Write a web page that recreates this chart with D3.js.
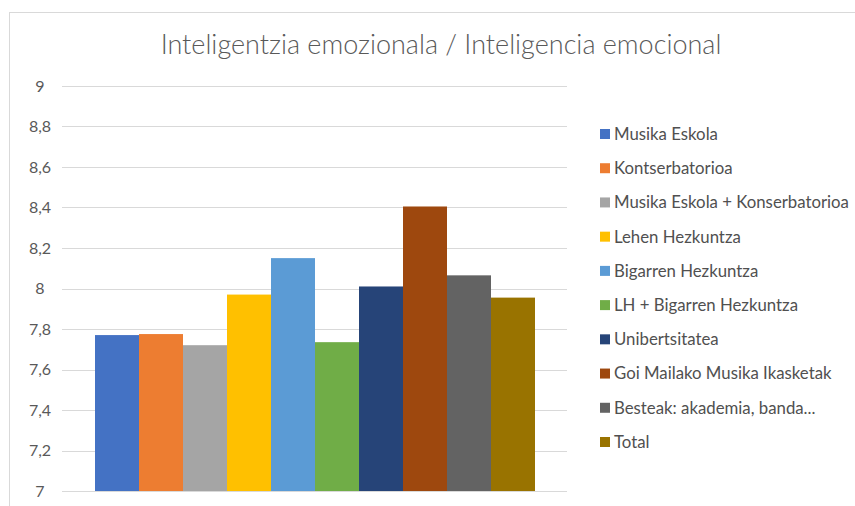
<!DOCTYPE html>
<html><head><meta charset="utf-8">
<script src="https://cdn.jsdelivr.net/npm/d3@7"></script>
<style>body{margin:0;background:#fff;}svg{display:block;}</style>
</head><body>
<script>
const title = "Inteligentzia emozionala / Inteligencia emocional";
const categories = ["Musika Eskola","Kontserbatorioa","Musika Eskola + Konserbatorioa","Lehen Hezkuntza","Bigarren Hezkuntza","LH + Bigarren Hezkuntza","Unibertsitatea","Goi Mailako Musika Ikasketak","Besteak: akademia, banda...","Total"];
const values = [7.77, 7.775, 7.72, 7.97, 8.15, 7.735, 8.01, 8.405, 8.065, 7.955];
const colors = ["#4472c4","#ed7d31","#a5a5a5","#ffc000","#5b9bd5","#70ad47","#264478","#9e480e","#636363","#997300"];
const yTicks = [7,7.2,7.4,7.6,7.8,8,8.2,8.4,8.6,8.8,9];

const W = 855, H = 506;
const svg = d3.select("body").append("svg").attr("width", W).attr("height", H);
svg.append("rect").attr("x", 9.5).attr("y", 12.5).attr("width", 900).attr("height", 600)
  .attr("fill", "#fff").attr("stroke", "#d9d9d9").attr("stroke-width", 1);

const y = d3.scaleLinear().domain([7, 9]).range([491, 86]);
const x = d3.scaleBand().domain(categories).range([95, 535]).padding(0);

const fontF = "Lato, 'Open Sans', sans-serif";
svg.append("text").attr("x", 441).attr("y", 54).attr("text-anchor", "middle")
  .attr("font-family", fontF).attr("font-weight", 300).attr("font-size", 27).attr("fill", "#595959").text(title);

const grid = svg.append("g");
grid.selectAll("line").data(yTicks).join("line")
  .attr("x1", 62).attr("x2", 567)
  .attr("y1", d => Math.round(y(d)) + 0.5).attr("y2", d => Math.round(y(d)) + 0.5)
  .attr("stroke", "#d9d9d9").attr("stroke-width", 1);

const yAxis = d3.axisLeft(y).tickValues(yTicks).tickSize(0).tickPadding(0)
  .tickFormat(d => d3.format(".1f")(d).replace(/\.0$/, "").replace(".", ","));
const ga = svg.append("g").attr("transform", "translate(50,0)").call(yAxis);
ga.select(".domain").remove();
ga.selectAll("text").attr("text-anchor", "middle").attr("x", -10)
  .attr("font-family", fontF).attr("font-size", 16).attr("fill", "#595959");

svg.append("g").selectAll("rect").data(categories).join("rect")
  .attr("x", d => x(d)).attr("width", x.bandwidth())
  .attr("y", (d, i) => y(values[i])).attr("height", (d, i) => y(7) - y(values[i]))
  .attr("fill", (d, i) => colors[i]);

const lg = svg.append("g");
const rowY = d3.scalePoint().domain(categories).range([134, 442]);
const item = lg.selectAll("g").data(categories).join("g")
  .attr("transform", d => `translate(600,${rowY(d)})`);
item.append("rect").attr("x", 0).attr("y", -5).attr("width", 10).attr("height", 10)
  .attr("fill", (d, i) => colors[i]);
item.append("text").attr("x", 14).attr("y", 0).attr("dy", "0.35em")
  .attr("font-family", fontF).attr("font-size", 16.8).attr("fill", "#505050").text(d => d);
</script>
</body></html>
